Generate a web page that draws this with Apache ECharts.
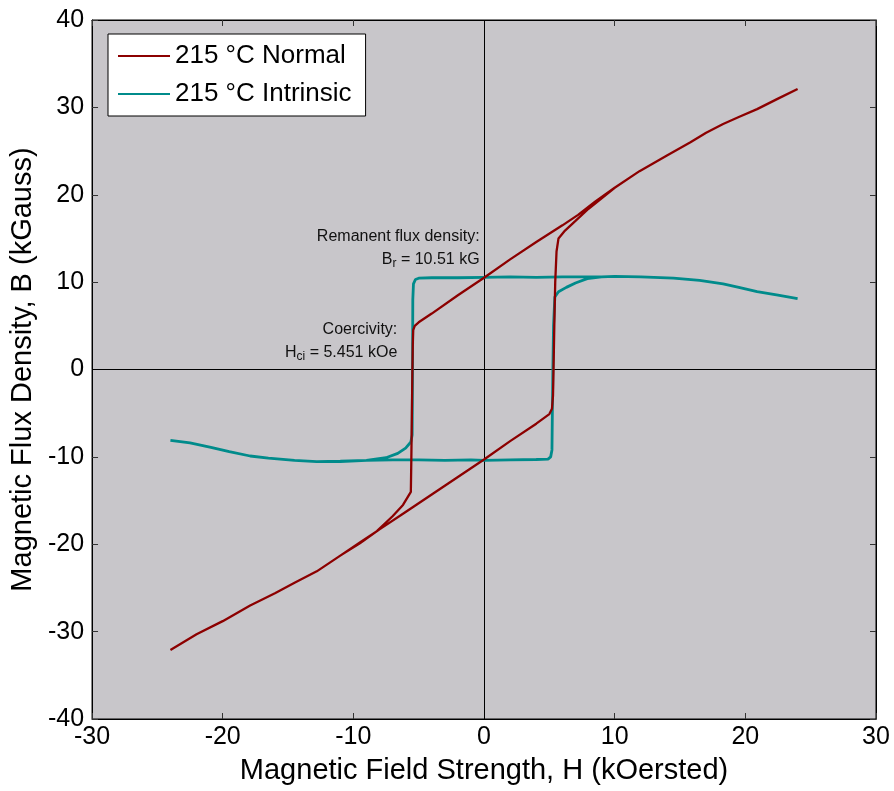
<!DOCTYPE html>
<html>
<head>
<meta charset="utf-8">
<script src="https://cdn.jsdelivr.net/npm/echarts@6/dist/echarts.min.js"></script>
<style>html,body{margin:0;padding:0;background:#fff;}#c{width:894px;height:791px;}</style>
</head>
<body>
<div id="c"></div>
<script>
// ---- Data ----
const seriesNames = ['215 °C Normal', '215 °C Intrinsic'];
const xTicks = [-30, -20, -10, 0, 10, 20, 30];
const yTicks = [-40, -30, -20, -10, 0, 10, 20, 30, 40];

// Normal curve B(H): descending branch then ascending branch (kOe, kG)
const normalH = [24, 22.5, 20.9, 19.5, 18.3, 17, 15.8, 14, 11.9, 10, 8.5, 7.2, 6, 4, 2, 0, -2, -4, -5.0, -5.3, -5.42, -5.45, -5.48, -5.52, -5.56, -5.6, -6.2, -7.0, -8.2, -9.5, -11, -12.8, -14.5, -16, -17.9, -20, -22, -24,
  -22, -20, -17.9, -16, -14.5, -12.8, -11, -9.5, -8, -6, -4, -2, 0, 2, 4, 5.0, 5.2, 5.28, 5.32, 5.38, 5.45, 5.55, 5.7, 6.2, 7, 8, 10, 11.9, 14, 15.8, 17, 18.3, 19.5, 20.9, 22.5, 24];
const normalB = [32.1, 31.0, 29.8, 28.9, 28.1, 27.1, 26.0, 24.5, 22.7, 20.8, 19.2, 17.7, 16.5, 14.6, 12.6, 10.5, 8.5, 6.4, 5.4, 5.0, 4.5, 3.0, 0, -5, -10, -14.0, -15.5, -16.8, -18.5, -19.8, -21.3, -23.1, -24.4, -25.6, -27.0, -28.8, -30.3, -32.1,
  -30.3, -28.8, -27.0, -25.6, -24.4, -23.1, -21.3, -19.9, -18.3, -16.3, -14.3, -12.3, -10.3, -8.2, -6.2, -5.1, -4.5, -3, 0, 5, 10, 13.5, 15.0, 15.9, 17.0, 18.4, 20.8, 22.7, 24.5, 26.0, 27.1, 28.1, 28.9, 29.8, 31.0, 32.1];

// Intrinsic curve J(H): descending branch then ascending branch
const intrinsicH = [24, 22.5, 20.9, 19.5, 18.3, 16.5, 14.5, 12, 10, 8, 6, 4, 2, 0, -2, -4, -5.0, -5.25, -5.4, -5.45, -5.47, -5.5, -5.6, -6.0, -6.6, -7.5, -9, -11, -12.8, -14.5, -16.5, -17.9, -19.5, -20.9, -22.5, -24,
  -22.5, -20.9, -19.5, -17.9, -16.5, -14.5, -12.8, -11, -9, -7, -5, -3, -1, 0, 2, 4, 4.9, 5.1, 5.2, 5.23, 5.27, 5.32, 5.42, 5.7, 6.3, 7.0, 7.9, 9, 10, 12, 14.5, 16.5, 18.3, 19.5, 20.9, 22.5, 24];
const intrinsicB = [8.1, 8.5, 8.9, 9.4, 9.8, 10.2, 10.45, 10.6, 10.65, 10.6, 10.6, 10.55, 10.6, 10.55, 10.5, 10.5, 10.45, 10.3, 9.8, 8.0, 0, -7.5, -8.3, -9.0, -9.6, -10.1, -10.4, -10.55, -10.55, -10.4, -10.15, -9.9, -9.4, -8.9, -8.4, -8.1,
  -8.4, -8.9, -9.4, -9.9, -10.15, -10.4, -10.55, -10.5, -10.4, -10.35, -10.35, -10.4, -10.35, -10.4, -10.35, -10.3, -10.25, -10.0, -9.2, -5, 0, 5, 8.3, 8.9, 9.4, 9.9, 10.4, 10.6, 10.65, 10.6, 10.45, 10.2, 9.8, 9.4, 8.9, 8.5, 8.1];

// Annotation anchors (data coords)
const remanenceAnchor = [-0.3, 13.95];
const coercivityAnchor = [-6.6, 3.3];

function zip(a, b) { return a.map((v, i) => [v, b[i]]); }

const FONT = "'Liberation Sans', Arial, Helvetica, sans-serif";
const chart = echarts.init(document.getElementById('c'), null, {renderer: 'canvas'});

const axisCommon = {
  type: 'value',
  axisLine: {show: true, onZero: false, lineStyle: {color: '#000', width: 1}},
  axisTick: {show: true, inside: true, length: 6, lineStyle: {color: '#333', width: 1}},
  splitLine: {show: false},
};

chart.setOption({
  animation: false,
  backgroundColor: '#ffffff',
  textStyle: {fontFamily: FONT},
  grid: {left: 92, right: 18, top: 20, bottom: 72, show: true, backgroundColor: '#c8c6ca', borderColor: '#000', borderWidth: 1},
  legend: {
    data: seriesNames,
    orient: 'vertical',
    left: 108, top: 34,
    padding: [9, 14, 9, 10],
    itemGap: 12,
    itemWidth: 52, itemHeight: 2.2,
    itemTextGap: 4,
    icon: 'rect',
    backgroundColor: '#ffffff',
    borderColor: '#000', borderWidth: 1, borderRadius: 0,
    textStyle: {fontSize: 26, color: '#000', fontFamily: FONT}
  },
  xAxis: [
    Object.assign({}, axisCommon, {
      min: xTicks[0], max: xTicks[xTicks.length - 1], interval: 10, position: 'bottom',
      name: 'Magnetic Field Strength, H (kOersted)', nameLocation: 'middle', nameGap: 37,
      nameTextStyle: {fontSize: 29, color: '#000', fontFamily: FONT},
      axisLabel: {fontSize: 25, color: '#000', margin: 6, fontFamily: FONT}
    }),
    Object.assign({}, axisCommon, {
      min: xTicks[0], max: xTicks[xTicks.length - 1], interval: 10, position: 'top',
      axisLabel: {show: false}
    })
  ],
  yAxis: [
    Object.assign({}, axisCommon, {
      min: yTicks[0], max: yTicks[yTicks.length - 1], interval: 10, position: 'left',
      name: 'Magnetic Flux Density, B (kGauss)', nameLocation: 'middle', nameGap: 52, nameRotate: 90,
      nameTextStyle: {fontSize: 29, color: '#000', fontFamily: FONT},
      axisLabel: {fontSize: 25, color: '#000', margin: 8, fontFamily: FONT}
    }),
    Object.assign({}, axisCommon, {
      min: yTicks[0], max: yTicks[yTicks.length - 1], interval: 10, position: 'right',
      axisLabel: {show: false}
    })
  ],
  series: [
    {
      name: seriesNames[0], type: 'line', xAxisIndex: 0, yAxisIndex: 0,
      data: zip(normalH, normalB), symbol: 'none', smooth: false, z: 3,
      lineStyle: {color: '#8c0000', width: 2.3}, itemStyle: {color: '#8c0000'},
      markLine: {
        silent: true, symbol: 'none', z: 1, animation: false,
        label: {show: false},
        lineStyle: {color: '#000', width: 1, type: 'solid'},
        data: [{xAxis: 0}, {yAxis: 0}]
      },
      markPoint: {
        silent: true, symbol: 'circle', symbolSize: 1, itemStyle: {color: 'rgba(0,0,0,0)'},
        label: {
          show: true, position: 'left', distance: 0, align: 'right', color: '#111',
          fontSize: 16, fontFamily: FONT, lineHeight: 23,
          rich: {
            n: {fontSize: 16, fontFamily: FONT, color: '#111', lineHeight: 23},
            s: {fontSize: 12, fontFamily: FONT, color: '#111', padding: [9, 0, 0, 0], lineHeight: 23}
          }
        },
        data: [
          {coord: remanenceAnchor, label: {formatter: '{n|Remanent flux density:}\n{n|B}{s|r}{n| = 10.51 kG}'}},
          {coord: coercivityAnchor, label: {formatter: '{n|Coercivity:}\n{n|H}{s|ci}{n| = 5.451 kOe}'}}
        ]
      }
    },
    {
      name: seriesNames[1], type: 'line', xAxisIndex: 0, yAxisIndex: 0,
      data: zip(intrinsicH, intrinsicB), symbol: 'none', smooth: false, z: 2,
      lineStyle: {color: '#008b8b', width: 2.8}, itemStyle: {color: '#008b8b'}
    }
  ]
});
</script>
</body>
</html>
